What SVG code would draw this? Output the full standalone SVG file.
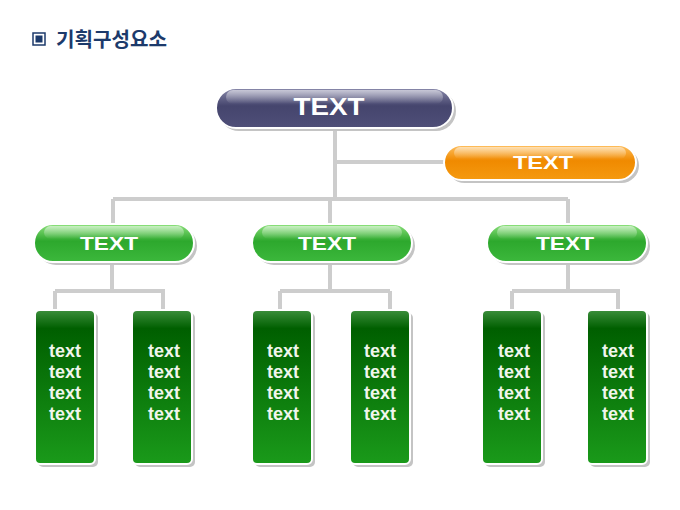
<svg xmlns="http://www.w3.org/2000/svg" width="680" height="510" viewBox="0 0 680 510">
<defs>
<linearGradient id="gNavy" x1="0" y1="0" x2="0" y2="1">
<stop offset="0" stop-color="#8a8aab"/><stop offset="0.45" stop-color="#45456d"/><stop offset="1" stop-color="#4f4f78"/>
</linearGradient>
<linearGradient id="gOrange" x1="0" y1="0" x2="0" y2="1">
<stop offset="0" stop-color="#ffc060"/><stop offset="0.45" stop-color="#f08a00"/><stop offset="1" stop-color="#f59a10"/>
</linearGradient>
<linearGradient id="gGreen" x1="0" y1="0" x2="0" y2="1">
<stop offset="0" stop-color="#8fe27e"/><stop offset="0.45" stop-color="#2da82d"/><stop offset="1" stop-color="#3cb83c"/>
</linearGradient>
<linearGradient id="gBox" x1="0" y1="0" x2="0" y2="1">
<stop offset="0" stop-color="#3c8f3c"/><stop offset="0.12" stop-color="#005f00"/><stop offset="1" stop-color="#1a9a1a"/>
</linearGradient>
<linearGradient id="gGloss" x1="0" y1="0" x2="0" y2="1">
<stop offset="0" stop-color="#ffffff" stop-opacity="0.55"/><stop offset="1" stop-color="#ffffff" stop-opacity="0"/>
</linearGradient>
</defs>
<style>
.conn{fill:none;stroke:#cdcdcd;stroke-width:4}
.shadow{fill:#c4c4c4}
.edge{stroke:#ffffff;stroke-width:2}
.lbl{font-family:"Liberation Sans",Arial,sans-serif;font-weight:bold;fill:#ffffff;text-anchor:middle}
.big{font-size:24px}
.mid{font-size:19px}
.small{font-size:18px;fill:#f0f6ec}
.title{font-family:"Noto Sans CJK KR","Noto Sans",sans-serif;font-weight:bold;font-size:20px;fill:#1c3a6b}
</style>
<g id="title">
<rect x="33" y="33" width="12" height="12" fill="#ffffff" stroke="#1c3a6b" stroke-width="1.5"/>
<rect x="35.5" y="35.5" width="7" height="7" fill="#1c3a6b"/>
<text class="title" x="56" y="47" textLength="111" lengthAdjust="spacingAndGlyphs">기획구성요소</text>
</g>
<g id="connectors">
<path class="conn" d="M335 127 V199 M335 162 H446 M113 199 H568 M113 199 V225 M330 199 V225 M568 199 V225"/>
<path class="conn" d="M112 262 V291 M55 291 H165 M55 291 V311 M163 291 V311"/>
<path class="conn" d="M330 262 V291 M280 291 H390 M280 291 V311 M390 291 V311"/>
<path class="conn" d="M568 262 V291 M512 291 H620 M512 291 V311 M618 291 V311"/>
</g>
<g id="top">
<rect class="shadow" x="219" y="91" width="237" height="40" rx="20"/>
<rect class="edge" x="216" y="88" width="237" height="40" rx="20" fill="url(#gNavy)"/>
<rect x="226" y="90" width="217" height="14" rx="7" fill="url(#gGloss)"/>
<text class="lbl big" x="329" y="115" textLength="71" lengthAdjust="spacingAndGlyphs">TEXT</text>
</g>
<g id="orange">
<rect class="shadow" x="447" y="148" width="192" height="35" rx="17.5"/>
<rect class="edge" x="444" y="145" width="192" height="35" rx="17.5" fill="url(#gOrange)"/>
<rect x="454" y="147" width="172" height="12" rx="6" fill="url(#gGloss)"/>
<text class="lbl mid" x="543" y="169" textLength="60" lengthAdjust="spacingAndGlyphs">TEXT</text>
</g>
<g id="green1">
<rect class="shadow" x="37" y="227" width="160" height="38" rx="19"/>
<rect class="edge" x="34" y="224" width="160" height="38" rx="19" fill="url(#gGreen)"/>
<rect x="44" y="226" width="140" height="13" rx="6.5" fill="url(#gGloss)"/>
<text class="lbl mid" x="109" y="250" textLength="58" lengthAdjust="spacingAndGlyphs">TEXT</text>
</g>
<g id="green2">
<rect class="shadow" x="255" y="227" width="160" height="38" rx="19"/>
<rect class="edge" x="252" y="224" width="160" height="38" rx="19" fill="url(#gGreen)"/>
<rect x="262" y="226" width="140" height="13" rx="6.5" fill="url(#gGloss)"/>
<text class="lbl mid" x="327" y="250" textLength="58" lengthAdjust="spacingAndGlyphs">TEXT</text>
</g>
<g id="green3">
<rect class="shadow" x="490" y="227" width="160" height="38" rx="19"/>
<rect class="edge" x="487" y="224" width="160" height="38" rx="19" fill="url(#gGreen)"/>
<rect x="497" y="226" width="140" height="13" rx="6.5" fill="url(#gGloss)"/>
<text class="lbl mid" x="565" y="250" textLength="58" lengthAdjust="spacingAndGlyphs">TEXT</text>
</g>
<g id="box1">
<rect class="shadow" x="38" y="313" width="60" height="154" rx="5"/>
<rect class="edge" x="35" y="310" width="60" height="154" rx="5" fill="url(#gBox)"/>
<text class="lbl small"><tspan x="65" y="357">text</tspan><tspan x="65" y="378">text</tspan><tspan x="65" y="399">text</tspan><tspan x="65" y="420">text</tspan></text>
</g>
<g id="box2">
<rect class="shadow" x="135" y="313" width="60" height="154" rx="5"/>
<rect class="edge" x="132" y="310" width="60" height="154" rx="5" fill="url(#gBox)"/>
<text class="lbl small"><tspan x="164" y="357">text</tspan><tspan x="164" y="378">text</tspan><tspan x="164" y="399">text</tspan><tspan x="164" y="420">text</tspan></text>
</g>
<g id="box3">
<rect class="shadow" x="255" y="313" width="60" height="154" rx="5"/>
<rect class="edge" x="252" y="310" width="60" height="154" rx="5" fill="url(#gBox)"/>
<text class="lbl small"><tspan x="283" y="357">text</tspan><tspan x="283" y="378">text</tspan><tspan x="283" y="399">text</tspan><tspan x="283" y="420">text</tspan></text>
</g>
<g id="box4">
<rect class="shadow" x="353" y="313" width="60" height="154" rx="5"/>
<rect class="edge" x="350" y="310" width="60" height="154" rx="5" fill="url(#gBox)"/>
<text class="lbl small"><tspan x="380" y="357">text</tspan><tspan x="380" y="378">text</tspan><tspan x="380" y="399">text</tspan><tspan x="380" y="420">text</tspan></text>
</g>
<g id="box5">
<rect class="shadow" x="485" y="313" width="60" height="154" rx="5"/>
<rect class="edge" x="482" y="310" width="60" height="154" rx="5" fill="url(#gBox)"/>
<text class="lbl small"><tspan x="514" y="357">text</tspan><tspan x="514" y="378">text</tspan><tspan x="514" y="399">text</tspan><tspan x="514" y="420">text</tspan></text>
</g>
<g id="box6">
<rect class="shadow" x="590" y="313" width="60" height="154" rx="5"/>
<rect class="edge" x="587" y="310" width="60" height="154" rx="5" fill="url(#gBox)"/>
<text class="lbl small"><tspan x="618" y="357">text</tspan><tspan x="618" y="378">text</tspan><tspan x="618" y="399">text</tspan><tspan x="618" y="420">text</tspan></text>
</g>
</svg>
